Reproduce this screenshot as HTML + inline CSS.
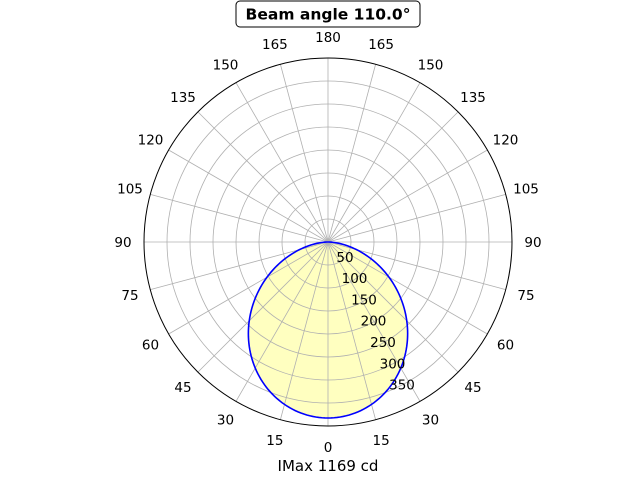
<!DOCTYPE html>
<html><head><meta charset="utf-8"><style>
body{margin:0;background:#fff;}
svg{display:block;font-family:"DejaVu Sans","Liberation Sans",sans-serif;}
</style></head><body>
<svg id="s" width="640" height="480" xmlns="http://www.w3.org/2000/svg"></svg>
<script>
const s=document.getElementById('s');
const cx=328,cy=242,R=184;
let h='';
let pts=[];
for(let a=-90;a<=90;a+=1){const t=a*Math.PI/180;const r=176*Math.pow(Math.cos(t),1.32);
pts.push((cx+r*Math.sin(t)).toFixed(2)+','+(cy+r*Math.cos(t)).toFixed(2));}
h+=`<polygon points="${pts.join(' ')}" fill="#ffffc0"/>`;
for(let i=1;i<8;i++)h+=`<circle cx="${cx}" cy="${cy}" r="${i*23}" fill="none" stroke="#b0b0b0" stroke-width="0.8"/>`;
for(let a=0;a<360;a+=15){const t=a*Math.PI/180;h+=`<line x1="${cx}" y1="${cy}" x2="${(cx+R*Math.sin(t)).toFixed(2)}" y2="${(cy+R*Math.cos(t)).toFixed(2)}" stroke="#b0b0b0" stroke-width="0.8"/>`;}
h+=`<polyline points="${pts.join(' ')}" fill="none" stroke="#0000ff" stroke-width="1.6"/>`;
h+=`<circle cx="${cx}" cy="${cy}" r="${R}" fill="none" stroke="#000" stroke-width="1"/>`;
for(let a=0;a<360;a+=15){const t=a*Math.PI/180;const lab=a<=180?a:360-a;
const x=cx+205*Math.sin(t),y=cy+205*Math.cos(t);
h+=`<text x="${x.toFixed(1)}" y="${(y+4.8).toFixed(1)}" font-size="13.5" text-anchor="middle">${lab}</text>`;}
for(let i=0;i<7;i++){const x=345+i*9.5,y=257+i*21.3;
h+=`<text x="${x}" y="${(y+4.8).toFixed(1)}" font-size="13.5" text-anchor="middle">${(i+1)*50}</text>`;}
h+=`<rect x="236" y="1" width="184" height="26" rx="4" fill="#fff" stroke="#000" stroke-width="1"/>`;
h+=`<text x="328" y="19.5" font-size="15.5" font-weight="bold" text-anchor="middle">Beam angle 110.0°</text>`;
h+=`<text x="328" y="471" font-size="15" text-anchor="middle">IMax 1169 cd</text>`;
s.innerHTML=h;
</script>
</body></html>
